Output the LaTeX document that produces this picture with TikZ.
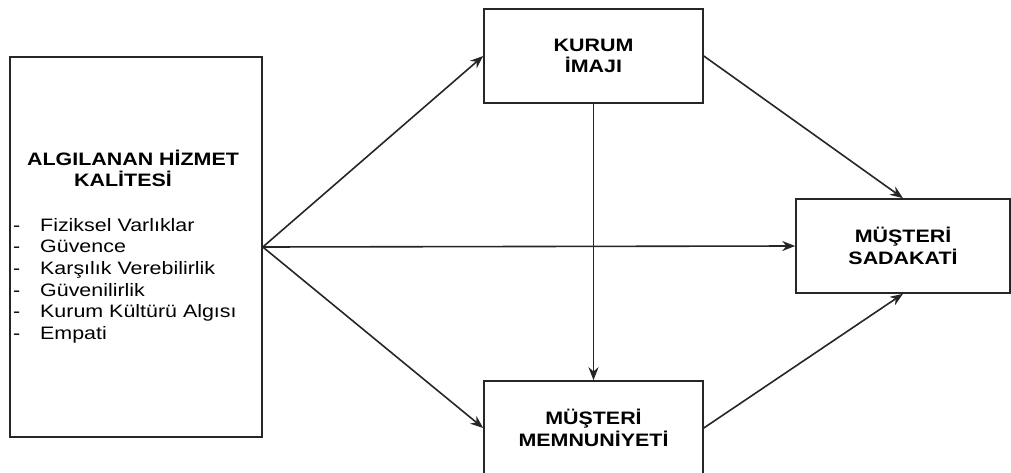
\documentclass[tikz,border=0pt]{standalone}
\usepackage{fontspec}
\setmainfont[FakeStretch=1.19]{Liberation Sans}
\usetikzlibrary{arrows.meta}
\newcommand{\yazi}{\fontsize{18}{21.6}\selectfont}
\tikzset{
  box/.style={draw=black!85,line width=1.6pt,inner sep=0pt,align=center,font=\yazi\bfseries},
  arr/.style={draw=black!85,line width=1.6pt,-{Stealth[length=13pt,width=10pt]}},
}
\begin{document}
\begin{tikzpicture}[x=1pt,y=-1pt]
  \clip (0,0) rectangle (1011,473);
  % kutular
  \node[box,minimum width=252pt,minimum height=380pt] (hizmet) at (136,247) {};
  \node[box,draw=none] (baslik) at (133,168.5) {ALGILANAN HİZMET\\KALİTESİ\hspace*{20pt}};
  \node[anchor=north west,inner sep=0pt,align=left,font=\yazi] (boyut) at (13,218)
    {\makebox[27pt][l]{-}Fiziksel Varlıklar\\
     \makebox[27pt][l]{-}Güvence\\
     \makebox[27pt][l]{-}Karşılık Verebilirlik\\
     \makebox[27pt][l]{-}Güvenilirlik\\
     \makebox[27pt][l]{-}Kurum Kültürü Algısı\\
     \makebox[27pt][l]{-}Empati};
  \node[box,minimum width=219pt,minimum height=94pt] (imaj) at (593.5,56) {KURUM\\İMAJI};
  \node[box,minimum width=219pt,minimum height=94pt] (memnun) at (593.5,428) {MÜŞTERİ\\MEMNUNİYETİ};
  \node[box,minimum width=214pt,minimum height=94pt] (sadakat) at (903,246) {MÜŞTERİ\\SADAKATİ};
  % oklar
  \draw[arr] (hizmet.east) -- (imaj.west);
  \draw[arr] (hizmet.east) -- (sadakat.west);
  \draw[arr] (hizmet.east) -- (memnun.west);
  \draw[arr] (imaj.south) -- (memnun.north);
  \draw[arr] (imaj.east) -- (sadakat.north);
  \draw[arr] (memnun.east) -- (sadakat.south);
\end{tikzpicture}
\end{document}
